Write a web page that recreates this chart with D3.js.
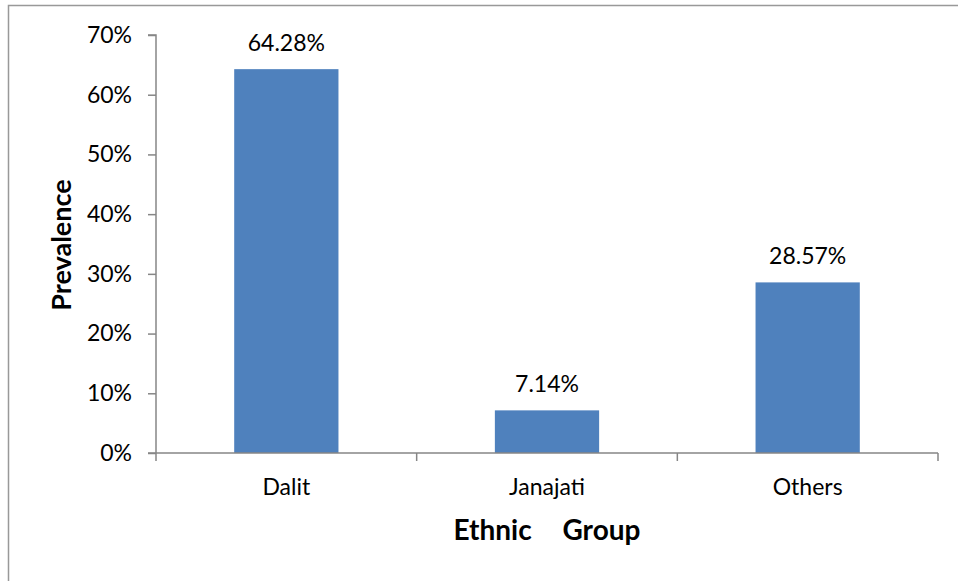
<!DOCTYPE html>
<html>
<head>
<meta charset="utf-8">
<script src="https://cdn.jsdelivr.net/npm/d3@7"></script>
<style>
  html, body { margin: 0; padding: 0; background: #fff; }
  svg { display: block; font-family: Lato, "Open Sans", sans-serif; }
</style>
</head>
<body>
<svg id="chart" width="958" height="581"></svg>
<script>
// Prevalence by ethnic group
const categories = ["Dalit", "Janajati", "Others"];
const prevalence = [64.28, 7.14, 28.57];
const valueLabels = ["64.28%", "7.14%", "28.57%"];
const yTicks = [0, 10, 20, 30, 40, 50, 60, 70];

const svg = d3.select("#chart");
const plot = { left: 156, right: 938, top: 35, bottom: 453 };
const axisColor = "#868686";
const fontFamily = "Lato, 'Open Sans', sans-serif";

// chart frame
svg.append("rect")
  .attr("x", 8.5).attr("y", 5.5)
  .attr("width", 1000).attr("height", 1000)
  .attr("fill", "none").attr("stroke", "#999").attr("stroke-width", 1.5);

const x = d3.scaleBand().domain(categories).range([plot.left, plot.right]).paddingInner(0.6).paddingOuter(0.3);
const xOuter = d3.scaleBand().domain(categories).range([plot.left, plot.right]);
const y = d3.scaleLinear().domain([0, 70]).range([plot.bottom, plot.top]);

// bars
svg.append("g").selectAll("rect")
  .data(categories)
  .join("rect")
  .attr("x", d => x(d))
  .attr("width", x.bandwidth())
  .attr("y", (d, i) => y(prevalence[i]))
  .attr("height", (d, i) => y(0) - y(prevalence[i]))
  .attr("fill", "#4f81bd");

// value labels
svg.append("g").selectAll("text")
  .data(categories)
  .join("text")
  .attr("x", d => x(d) + x.bandwidth() / 2)
  .attr("y", (d, i) => y(prevalence[i]) - 18)
  .attr("text-anchor", "middle")
  .attr("font-size", 23)
  .attr("fill", "#000")
  .text((d, i) => valueLabels[i]);

// y axis
const yAxis = d3.axisLeft(y).tickValues(yTicks).tickFormat(d => d + "%").tickSize(8).tickPadding(16);
const gy = svg.append("g").attr("transform", `translate(${plot.left},0)`).call(yAxis);
gy.select(".domain").attr("stroke", axisColor).attr("stroke-width", 1.5).attr("d", `M-8,${plot.top}H0V${plot.bottom}`);
gy.selectAll(".tick line").attr("stroke", axisColor).attr("stroke-width", 1.5);
gy.selectAll(".tick text").attr("font-size", 23).attr("fill", "#000").attr("font-family", fontFamily);

// x axis: tick marks at category boundaries
const boundaries = categories.map(c => xOuter(c)).concat([plot.right]);
const gx = svg.append("g");
gx.append("line")
  .attr("x1", plot.left - 8).attr("x2", plot.right)
  .attr("y1", plot.bottom).attr("y2", plot.bottom)
  .attr("stroke", axisColor).attr("stroke-width", 1.5);
gx.selectAll("line.tk")
  .data(boundaries)
  .join("line")
  .attr("class", "tk")
  .attr("x1", d => d).attr("x2", d => d)
  .attr("y1", plot.bottom).attr("y2", plot.bottom + 8)
  .attr("stroke", axisColor).attr("stroke-width", 1.5);
gx.selectAll("text")
  .data(categories)
  .join("text")
  .attr("x", d => xOuter(d) + xOuter.bandwidth() / 2)
  .attr("y", plot.bottom + 42)
  .attr("text-anchor", "middle")
  .attr("font-size", 23)
  .attr("fill", "#000")
  .text(d => d);

// axis titles
svg.append("text")
  .attr("x", 547).attr("y", 540)
  .attr("text-anchor", "middle")
  .attr("font-size", 28)
  .attr("font-weight", "bold")
  .attr("word-spacing", 24)
  .text("Ethnic Group");

svg.append("text")
  .attr("transform", "translate(71,245) rotate(-90)")
  .attr("text-anchor", "middle")
  .attr("font-size", 27)
  .attr("font-weight", "bold")
  .text("Prevalence");
</script>
</body>
</html>
